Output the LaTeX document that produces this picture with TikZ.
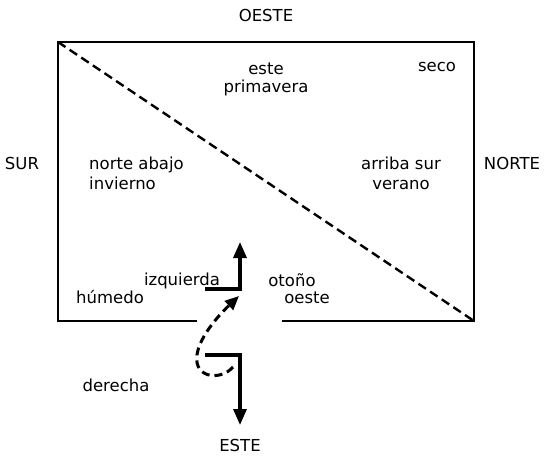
\documentclass[tikz,border=0pt]{standalone}
\usepackage{fontspec}
\setmainfont{DejaVu Sans}
\usetikzlibrary{arrows.meta, positioning}

\begin{document}
\begin{tikzpicture}[
    x=1pt, y=-1pt,
    font=\fontsize{16.5}{20}\selectfont,
    word/.style={
        inner sep=0pt,
        align=center
    },
    frame/.style={
        line width=2.4pt
    },
    turn/.style={
        line width=3.2pt,
        -{Triangle[length=16pt, width=13pt]}
    },
    swing/.style={
        line width=3pt,
        dash pattern=on 8pt off 5pt,
        -{Triangle[length=14pt, width=12pt]}
    },
    diag/.style={
        line width=2.4pt,
        dash pattern=on 9pt off 5pt
    }
]
\useasboundingbox (0,0) rectangle (553,455);

% Corners of the room
\coordinate (nw) at (58,42);
\coordinate (ne) at (474,42);
\coordinate (se) at (474,321);
\coordinate (sw) at (58,321);
\coordinate (gapl) at (197,321);
\coordinate (gapr) at (282,321);

% Compass words
\node[word] (oesteN) at (266,15) {OESTE};
\node[word] (sur) at (22,163) {SUR};
\node[word] (norte) at (512,163) {NORTE};
\node[word] (esteS) at (240,445) {ESTE};

% Words inside
\node[word] (este) at (266,69) {este};
\node[word, below=5pt of este] (primavera) {primavera};
\node[word] (seco) at (437,67) {seco};
\node[word, align=left, anchor=west] (abajo) at (89,173) {norte abajo\\invierno};
\node[word] (arriba) at (401,173) {arriba sur\\verano};
\node[word] (izq) at (182,281) {izquierda};
\node[word] (otono) at (292,280) {otoño};
\node[word] (humedo) at (110,297) {húmedo};
\node[word] (oeste) at (307,298) {oeste};
\node[word] (derecha) at (116,385) {derecha};

% Room outline with door gap
\draw[frame] (gapl) -- (sw) -- (nw) -- (ne) -- (se) -- (gapr);
\draw[diag] (nw) -- (se);

% Turning arrows
\coordinate (up0) at (205,289);
\coordinate (up1) at (240,289);
\coordinate (up2) at (240,242);
\draw[turn] (up0) -- (up1) -- (up2);

\coordinate (dn0) at (205,355);
\coordinate (dn1) at (240,355);
\coordinate (dn2) at (240,425);
\draw[turn] (dn0) -- (dn1) -- (dn2);

% Swing through the door
\coordinate (sw0) at (233,367);
\coordinate (sw1) at (239,296);
\draw[swing] (sw0) .. controls (220,382) and (190,378) .. (198,350)
    .. controls (203,332) and (222,312) .. (sw1);

\end{tikzpicture}
\end{document}
